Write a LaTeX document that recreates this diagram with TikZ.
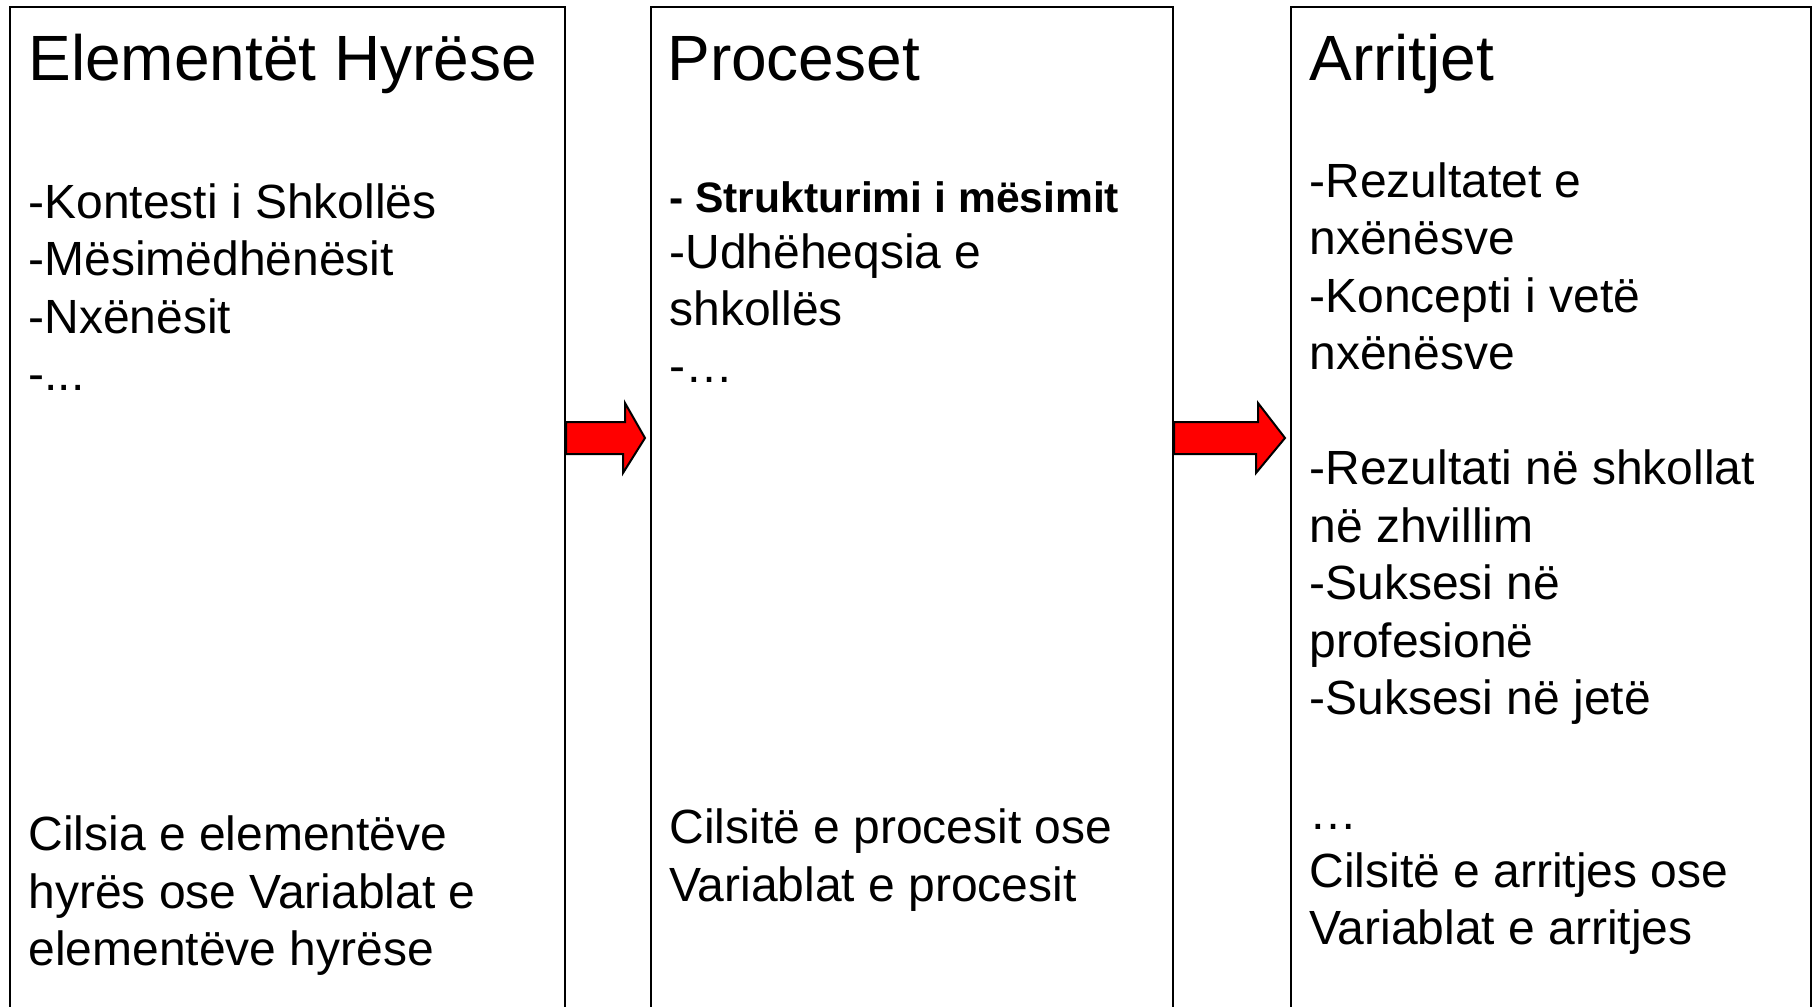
\documentclass[tikz,border=0pt]{standalone}
\usepackage{fontspec}
\setmainfont{Liberation Sans}
\usetikzlibrary{calc}

\newcommand{\tridots}{...}
\tikzset{
  colbox/.style={draw,rectangle,line width=1pt,inner sep=0pt,anchor=north west,minimum height=512pt},
  coltitle/.style={anchor=base west,inner sep=0pt,font=\fontsize{32}{38}\selectfont},
  colline/.style={anchor=base west,inner sep=0pt,font=\fontsize{24}{29}\selectfont},
  redarrow/.style={draw=black,line width=1pt,fill=red,line join=miter}
}

\begin{document}
\begin{tikzpicture}[x=0.5pt,y=-0.5pt]
\useasboundingbox (0,0) rectangle (1816,1007);
\clip (0,0) rectangle (1816,1007);
% three columns
\node[colbox,minimum width=277.5pt] (inp) at (9,6) {};
\node[colbox,minimum width=261pt] (proc) at (650,6) {};
\node[colbox,minimum width=260pt] (outc) at (1290,6) {};

% titles
\node[coltitle] (inptitle) at (28,80) {Elementët Hyrëse};
\node[coltitle] (proctitle) at (667,80) {Proceset};
\node[coltitle] (outctitle) at (1309,80) {Arritjet};

% first column
\foreach \k/\txt in {0/-Kontesti i Shkollës,1/-Mësimëdhënësit,2/-Nxënësit,3/-\tridots,
  11/Cilsia e elementëve,12/hyrës ose Variablat e,13/elementëve hyrëse}
  \node[colline] (inp-\k) at (28,{218+57.5*\k}) {\txt};

% second column
\node[colline,font=\fontsize{21.3}{26}\selectfont\bfseries] (proc-0) at (669,212) {- Strukturimi i mësimit};
\foreach \k/\txt in {1/-Udhëheqsia e,2/shkollës,3/-…}
  \node[colline] (proc-\k) at (669,{211+57*\k}) {\txt};
\node[colline] (proc-11) at (669,843) {Cilsitë e procesit ose};
\node[colline] (proc-12) at (669,901) {Variablat e procesit};

% third column
\foreach \k/\txt in {0/-Rezultatet e,1/nxënësve,2/-Koncepti i vetë,3/nxënësve,
  5/-Rezultati në shkollat,6/në zhvillim,7/-Suksesi në,8/profesionë,9/-Suksesi në jetë,
  11/…,12/Cilsitë e arritjes ose,13/Variablat e arritjes}
  \node[colline] (outc-\k) at (1309,{197+57.5*\k}) {\txt};

% arrows between the columns
\draw[redarrow] (inp.east |- 0,422) -- ++(59,0) -- ++(0,-19)
  -- ($(proc.west |- 0,438)+(-5,0)$) -- ++(-22,35) -- ++(0,-19)
  -- (inp.east |- 0,454) -- cycle;
\draw[redarrow] (proc.east |- 0,422) -- ++(84,0) -- ++(0,-19)
  -- ($(outc.west |- 0,438)+(-5,0)$) -- ++(-29,35) -- ++(0,-19)
  -- (proc.east |- 0,454) -- cycle;
\end{tikzpicture}
\end{document}
